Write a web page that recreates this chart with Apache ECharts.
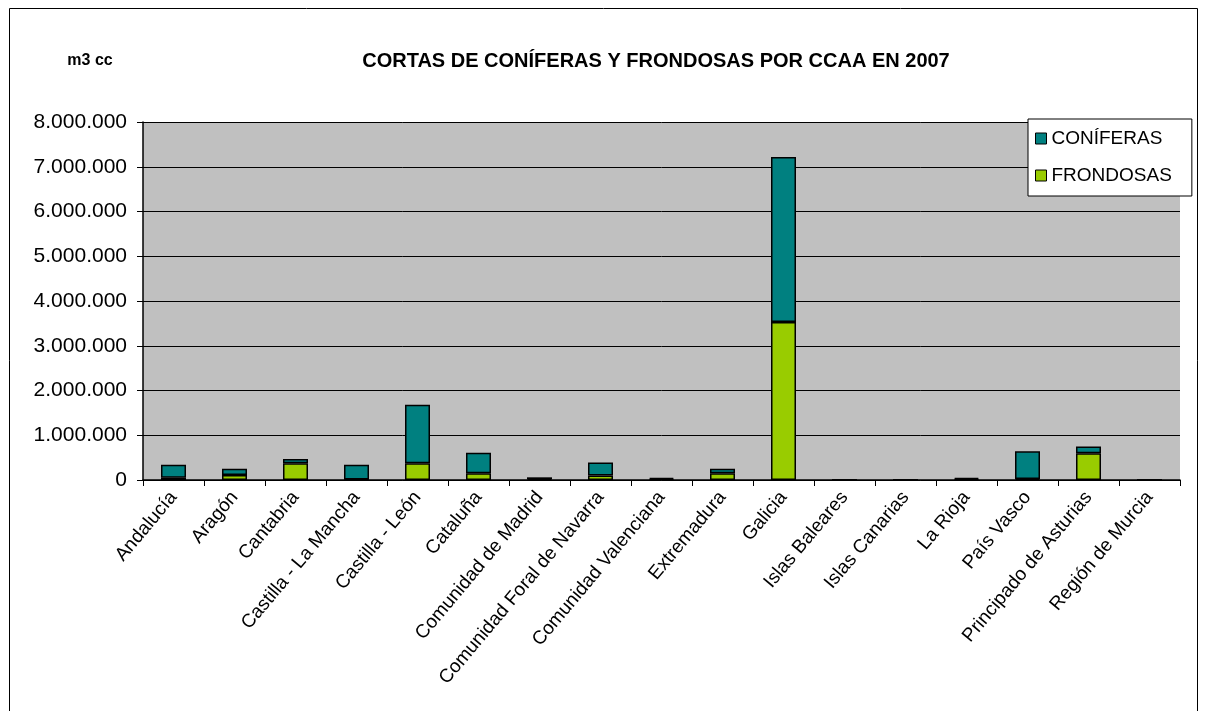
<!DOCTYPE html>
<html>
<head>
<meta charset="utf-8">
<script src="https://cdn.jsdelivr.net/npm/echarts@6/dist/echarts.min.js"></script>
<style>
  html, body { margin: 0; padding: 0; background: #fff; }
  #chart { width: 1209px; height: 711px; }
</style>
</head>
<body>
<div id="chart"></div>
<script>
const regions = [
  'Andalucía', 'Aragón', 'Cantabria', 'Castilla - La Mancha', 'Castilla - León',
  'Cataluña', 'Comunidad de Madrid', 'Comunidad Foral de Navarra', 'Comunidad Valenciana',
  'Extremadura', 'Galicia', 'Islas Baleares', 'Islas Canarias', 'La Rioja',
  'País Vasco', 'Principado de Asturias', 'Región de Murcia',
];
const frondosas = [50000, 110000, 372000, 10000, 373000, 150000, 20000, 100000, 20000,
  150000, 3530000, 0, 0, 20000, 20000, 596000, 0];
const coniferas = [290000, 140000, 100000, 330000, 1310000, 460000, 40000, 290000, 30000,
  100000, 3690000, 0, 0, 30000, 620000, 150000, 0];
const yTicks = { min: 0, max: 8000000, step: 1000000 };

const font = 'Liberation Sans, Arial, sans-serif';
const chart = echarts.init(document.getElementById('chart'));

const barStyle = (color) => ({
  color,
  borderColor: '#000',
  borderWidth: 1.5,
});

chart.setOption({
  animation: false,
  backgroundColor: '#fff',
  textStyle: { fontFamily: font, color: '#000' },
  title: [
    {
      text: 'CORTAS DE CONÍFERAS Y FRONDOSAS POR CCAA EN 2007',
      left: 651,
      top: 46,
      textAlign: 'center',
      textStyle: { fontFamily: font, fontSize: 20, fontWeight: 'bold', color: '#000' },
    },
    {
      text: 'm3 cc',
      left: 85,
      top: 48,
      textAlign: 'center',
      textStyle: { fontFamily: font, fontSize: 16, fontWeight: 'bold', color: '#000' },
    },
  ],
  graphic: [
    {
      type: 'rect',
      shape: { x: 9.5, y: 8.5, width: 1188, height: 800 },
      style: { fill: 'none', stroke: '#000', lineWidth: 1 },
      silent: true,
    },
  ],
  legend: {
    orient: 'vertical',
    left: 1028,
    top: 119,
    padding: [10, 20, 11, 7],
    itemGap: 18,
    itemWidth: 11,
    itemHeight: 11,
    itemTextGap: 10,
    icon: 'rect',
    backgroundColor: '#fff',
    borderColor: '#000',
    borderWidth: 1,
    textStyle: { fontFamily: font, fontSize: 19, color: '#000' },
    itemStyle: { borderColor: '#000', borderWidth: 1 },
    data: ['CONÍFERAS', 'FRONDOSAS'],
  },
  grid: {
    left: 143,
    right: 29,
    top: 122,
    bottom: 231,
    show: true,
    backgroundColor: '#C0C0C0',
    borderWidth: 0,
  },
  xAxis: {
    type: 'category',
    data: regions,
    axisLine: { show: true, lineStyle: { color: '#000', width: 1.5 } },
    axisTick: { show: true, length: 6, lineStyle: { color: '#000' } },
    axisLabel: {
      rotate: 50,
      interval: 0,
      margin: 14,
      fontFamily: font,
      fontSize: 19,
      color: '#000',
    },
  },
  yAxis: {
    type: 'value',
    min: yTicks.min,
    max: yTicks.max,
    interval: yTicks.step,
    axisLine: { show: true, lineStyle: { color: '#000', width: 1.5 } },
    axisTick: { show: true, length: 6, lineStyle: { color: '#000' } },
    splitLine: { show: true, lineStyle: { color: '#000', width: 1 } },
    axisLabel: {
      margin: 16,
      fontFamily: font,
      fontSize: 21,
      color: '#000',
      formatter: (v) => String(v).replace(/\B(?=(\d{3})+(?!\d))/g, '.'),
    },
  },
  series: [
    {
      name: 'FRONDOSAS',
      type: 'bar',
      stack: 'total',
      barWidth: 25,
      itemStyle: barStyle('#99CC00'),
      data: frondosas,
    },
    {
      name: 'CONÍFERAS',
      type: 'bar',
      stack: 'total',
      barWidth: 25,
      itemStyle: barStyle('#008080'),
      data: coniferas,
    },
  ],
});
</script>
</body>
</html>
